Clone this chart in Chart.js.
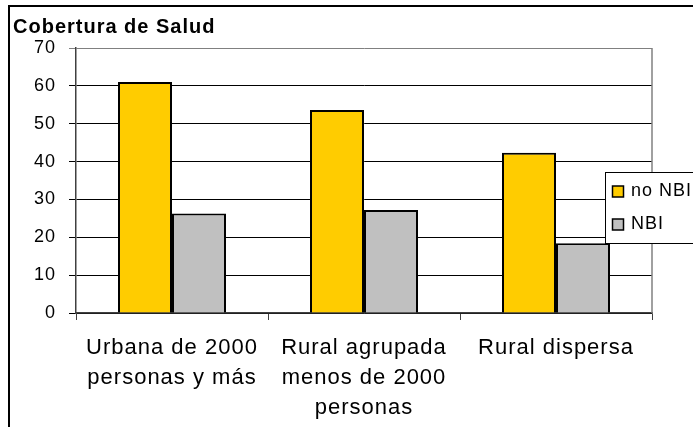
<!DOCTYPE html>
<html>
<head>
<meta charset="utf-8">
<script src="https://cdn.jsdelivr.net/npm/chart.js@4/dist/chart.umd.min.js"></script>
<style>
  html, body { margin: 0; padding: 0; background: #fff; }
  #wrap { width: 693px; height: 427px; position: relative; }
</style>
</head>
<body>
<div id="wrap"><canvas id="chart"></canvas></div>
<script>
// Data
var categories = [
  ['Urbana de 2000', 'personas y más'],
  ['Rural agrupada', 'menos de 2000', 'personas'],
  ['Rural dispersa']
];
var noNbi = [61.0, 53.6, 42.3];
var nbi = [26.3, 27.2, 18.4];
var seriesNames = ['no NBI', 'NBI'];
var YELLOW = '#FFCC00';
var GREY = '#C0C0C0';
var FONT = "'Liberation Sans', Arial, sans-serif";

// outer frame, right border of plot area and boxed legend
var excelLook = {
  id: 'excelLook',
  beforeDraw: function(chart) {
    var ctx = chart.ctx;
    // the old Excel export spaces its letters a bit
    ctx.letterSpacing = '1px';
    ctx.save();
    ctx.strokeStyle = '#000';
    ctx.lineWidth = 2;
    ctx.beginPath();
    ctx.moveTo(9, 427);
    ctx.lineTo(9, 6);
    ctx.lineTo(693, 6);
    ctx.stroke();
    ctx.restore();
  },
  beforeDatasetsDraw: function(chart) {
    var a = chart.chartArea, ctx = chart.ctx;
    ctx.save();
    ctx.strokeStyle = '#808080';
    ctx.lineWidth = 1.5;
    ctx.beginPath();
    ctx.moveTo(a.right, a.top);
    ctx.lineTo(a.right, a.bottom);
    ctx.stroke();
    ctx.restore();
  },
  afterDraw: function(chart) {
    var ctx = chart.ctx;
    var x = 605.5, y = 172.5, w = 100, h = 71;
    ctx.save();
    ctx.fillStyle = '#fff';
    ctx.fillRect(x, y, w, h);
    ctx.strokeStyle = '#000';
    ctx.lineWidth = 1;
    ctx.strokeRect(x, y, w, h);
    ctx.font = '18px ' + FONT;
    ctx.textBaseline = 'middle';
    chart.data.datasets.forEach(function(ds, i) {
      var cy = 191.5 + i * 33;
      ctx.fillStyle = ds.backgroundColor;
      ctx.fillRect(612.5, cy - 5.5, 11, 11);
      ctx.strokeStyle = '#000';
      ctx.lineWidth = 1.5;
      ctx.strokeRect(612.5, cy - 5.5, 11, 11);
      ctx.fillStyle = '#000';
      ctx.fillText(ds.label, 631, cy);
    });
    ctx.restore();
  }
};

new Chart(document.getElementById('chart'), {
  type: 'bar',
  data: {
    labels: categories,
    datasets: [{
      label: seriesNames[0],
      data: noNbi,
      backgroundColor: YELLOW,
      borderColor: '#000',
      borderWidth: 2,
      borderSkipped: 'bottom'
    }, {
      label: seriesNames[1],
      data: nbi,
      backgroundColor: GREY,
      borderColor: '#000',
      borderWidth: 2,
      borderSkipped: 'bottom'
    }]
  },
  options: {
    responsive: true,
    maintainAspectRatio: false,
    animation: false,
    categoryPercentage: 0.5625,
    barPercentage: 1,
    layout: { padding: { left: 13, right: 41, top: 0, bottom: 0 } },
    plugins: {
      legend: { display: false },
      tooltip: { enabled: false },
      title: {
        display: true,
        text: 'Cobertura de Salud',
        align: 'start',
        color: '#000',
        font: { family: FONT, size: 20, weight: 'bold', lineHeight: 1.2 },
        padding: { top: 15, bottom: 9 }
      }
    },
    scales: {
      x: {
        afterFit: function(scale) { scale.height = 114; },
        grid: {
          offset: true,
          drawOnChartArea: false,
          color: '#404040',
          tickLength: 7
        },
        border: { color: '#404040', width: 1.5 },
        ticks: {
          color: '#000',
          padding: 13,
          maxRotation: 0,
          font: { family: FONT, size: 22, lineHeight: 1.36 }
        }
      },
      y: {
        min: 0,
        max: 70,
        afterFit: function(scale) { scale.width = 63; },
        grid: {
          color: function(c) { return c.tick && c.tick.value === 70 ? '#808080' : '#000'; },
          tickLength: 7
        },
        border: { color: '#404040', width: 1.5 },
        ticks: {
          stepSize: 10,
          color: '#000',
          padding: 13,
          font: { family: FONT, size: 18 }
        }
      }
    }
  },
  plugins: [excelLook]
});
</script>
</body>
</html>
